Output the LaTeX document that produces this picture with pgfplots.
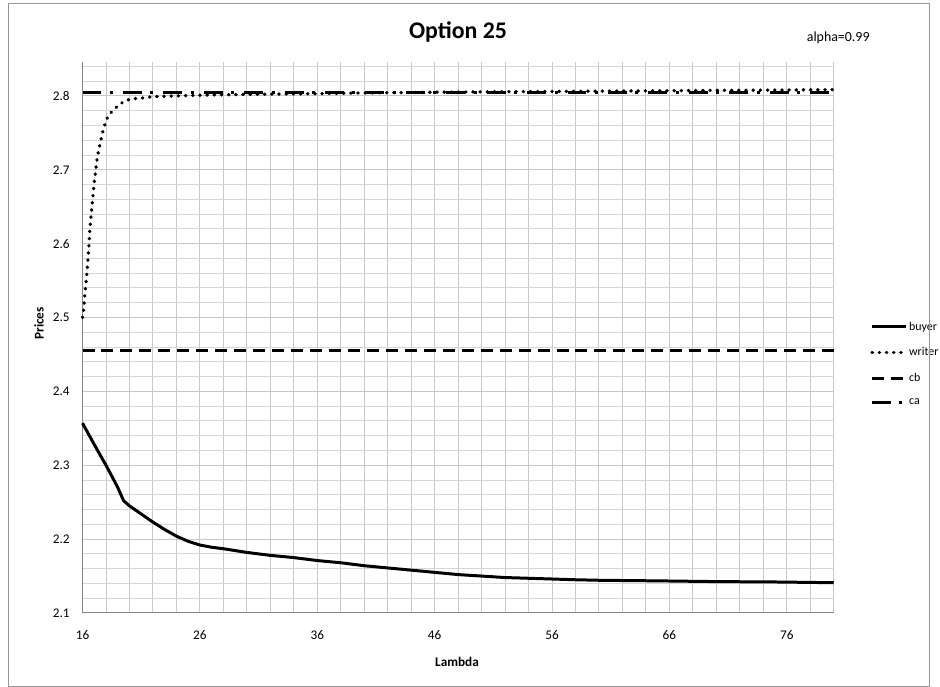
\documentclass[border=0pt]{standalone}
\usepackage{fontspec}
\setmainfont{Carlito}
\usepackage{pgfplots}
\pgfplotsset{compat=1.18}
\definecolor{axisgray}{RGB}{134,134,134}
\definecolor{gridmajor}{RGB}{200,200,200}
\definecolor{gridminor}{RGB}{214,214,214}
\definecolor{framegray}{RGB}{150,150,150}
\begin{document}
\begin{tikzpicture}[x=1bp,y=1bp]
\begin{axis}[
  scale only axis,
  width=752.8bp, height=552.6bp,
  xmin=16, xmax=80, ymin=2.1, ymax=2.8465,
  axis x line*=bottom, axis y line*=left,
  axis line style={axisgray, line width=1bp},
  xtick={16,18,...,80},
  xticklabels={16,,,,,26,,,,,36,,,,,46,,,,,56,,,,,66,,,,,76,,},
  ytick={2.1,2.2,2.3,2.4,2.5,2.6,2.7,2.8},
  minor ytick={2.12,2.14,2.16,2.18,2.22,2.24,2.26,2.28,2.32,2.34,2.36,2.38,
               2.42,2.44,2.46,2.48,2.52,2.54,2.56,2.58,2.62,2.64,2.66,2.68,
               2.72,2.74,2.76,2.78,2.82,2.84},
  yticklabel style={/pgf/number format/fixed, /pgf/number format/precision=1,
                    /pgf/number format/fixed zerofill},
  /pgf/number format/assume math mode=true,
  major tick length=0pt, minor tick length=0pt,
  xmajorgrids, ymajorgrids, yminorgrids,
  major grid style={gridmajor, line width=1bp},
  minor grid style={gridminor, line width=1bp},
  ticklabel style={font=\fontsize{13.3}{16}\selectfont},
  xticklabel style={anchor=base, yshift=-26.7bp, inner sep=0pt},
  yticklabel style={anchor=east, xshift=-12.7bp, inner sep=0pt},
  clip=false,
  legend cell align=left,
  legend style={at={(axis description cs:1.0484,0.531)}, anchor=north west,
                draw=none, fill=none, font=\fontsize{12}{14}\selectfont,
                row sep=13bp, inner sep=0pt,
                nodes={inner sep=1.5bp}},
  legend image code/.code={\draw[#1] (0bp,0bp) -- (34bp,0bp);},
]
% buyer price
\addplot[black, line width=3bp, line join=round] coordinates {
  (16,2.357) (17,2.328) (18,2.300) (19,2.270) (19.5,2.252) (20,2.245)
  (21,2.234) (22,2.223) (23,2.213) (24,2.204) (25,2.197) (26,2.192)
  (27,2.189) (28,2.187) (30,2.182) (32,2.178) (34,2.175) (36,2.171)
  (38,2.168) (40,2.164) (42,2.161) (44,2.158) (46,2.155) (48,2.152)
  (50,2.150) (52,2.148) (54,2.147) (56,2.146) (58,2.145) (60,2.1443)
  (65,2.1435) (70,2.1425) (75,2.142) (80,2.141)
};
\addlegendentry{buyer}
% writer price
\addplot[black, line width=3.4bp, line cap=round, dash pattern=on 0.4bp off 6.8bp] coordinates {
  (16,2.500) (16.1,2.511) (16.2,2.532) (16.34,2.554) (16.45,2.576)
  (16.55,2.598) (16.62,2.619) (16.8,2.650) (17.0,2.683) (17.15,2.703)
  (17.27,2.718) (17.41,2.729) (17.56,2.740) (17.7,2.750) (17.9,2.761)
  (18.13,2.771) (18.55,2.780) (19.06,2.787) (19.6,2.7935) (20.25,2.796)
  (21,2.797) (22,2.799) (24,2.800) (26,2.801) (30,2.802) (36,2.803)
  (40,2.804) (46,2.805) (50,2.8055) (56,2.806) (60,2.8065) (66,2.807)
  (70,2.8075) (76,2.808) (80,2.8085)
};
\addlegendentry{writer}
% cb
\addplot[black, line width=3bp, dash pattern=on 12bp off 7bp] coordinates {
  (16,2.455) (80,2.455)
};
\addlegendentry{cb}
% ca
\addplot[black, line width=3bp, dash pattern=on 19bp off 8.5bp on 3bp off 10bp] coordinates {
  (16,2.805) (80,2.805)
};
\addlegendentry{ca}
\coordinate (O) at (rel axis cs:0,0);
\end{axis}
% page, frame and chart texts, laid out from the plot corner
\begin{scope}[shift={(O)}, xshift=-82.7bp, yshift=-73.7bp]
\path (0,0) rectangle (940,688);
\draw[framegray, line width=1bp] (8.5,0.5) rectangle (931.5,684.5);
\node[font=\bfseries\fontsize{24}{28}\selectfont] at (459,656) {Option 25};
\node[font=\fontsize{14}{17}\selectfont] at (840,650) {alpha=0.99};
\node[font=\bfseries\fontsize{13.3}{16}\selectfont] at (458,24.7) {Lambda};
\node[font=\bfseries\fontsize{13.3}{16}\selectfont, rotate=90] at (39,364) {Prices};
\end{scope}
\end{tikzpicture}
\end{document}
